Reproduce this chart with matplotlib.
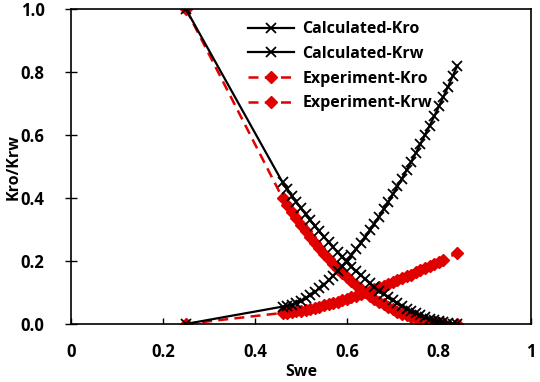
import matplotlib
matplotlib.use("Agg")
import matplotlib.pyplot as plt

# saturation points (Swe) and relative permeabilities
swe_calc = [0.25, 0.46, 0.47, 0.48, 0.49, 0.50, 0.51, 0.52, 0.53, 0.54, 0.55,
            0.56, 0.57, 0.58, 0.59, 0.60, 0.61, 0.62, 0.63, 0.64, 0.65,
            0.66, 0.67, 0.68, 0.69, 0.70, 0.71, 0.72, 0.73, 0.74, 0.75,
            0.76, 0.77, 0.78, 0.79, 0.80, 0.81, 0.82, 0.83, 0.84]
kro_calc = [1.000, 0.450, 0.429, 0.408, 0.388, 0.368, 0.349, 0.330, 0.312, 0.294, 0.277,
            0.260, 0.243, 0.227, 0.212, 0.197, 0.182, 0.168, 0.155, 0.142, 0.129,
            0.117, 0.106, 0.095, 0.084, 0.075, 0.065, 0.057, 0.048, 0.041, 0.034,
            0.027, 0.021, 0.016, 0.012, 0.008, 0.005, 0.002, 0.001, 0.000]
krw_calc = [0.000, 0.055, 0.057, 0.061, 0.066, 0.073, 0.081, 0.091, 0.101, 0.113, 0.125,
            0.138, 0.153, 0.168, 0.184, 0.201, 0.218, 0.237, 0.256, 0.276, 0.297,
            0.319, 0.341, 0.364, 0.387, 0.412, 0.437, 0.462, 0.489, 0.516, 0.543,
            0.572, 0.601, 0.630, 0.660, 0.691, 0.722, 0.754, 0.787, 0.820]

swe_exp = [0.25, 0.46, 0.47, 0.48, 0.49, 0.50, 0.51, 0.52, 0.53, 0.54, 0.55,
           0.56, 0.57, 0.58, 0.59, 0.60, 0.61, 0.62, 0.63, 0.64, 0.65,
           0.66, 0.67, 0.68, 0.69, 0.70, 0.71, 0.72, 0.73, 0.74, 0.75,
           0.76, 0.77, 0.78, 0.79, 0.80, 0.81, 0.84]
kro_exp = [1.000, 0.400, 0.378, 0.356, 0.335, 0.315, 0.295, 0.276, 0.258, 0.240, 0.223,
           0.207, 0.191, 0.176, 0.162, 0.148, 0.135, 0.123, 0.111, 0.100, 0.090,
           0.080, 0.070, 0.062, 0.054, 0.046, 0.039, 0.033, 0.027, 0.022, 0.018,
           0.014, 0.010, 0.007, 0.005, 0.003, 0.002, 0.000]
krw_exp = [0.000, 0.035, 0.036, 0.038, 0.040, 0.042, 0.045, 0.048, 0.052, 0.055, 0.059,
           0.063, 0.067, 0.071, 0.076, 0.080, 0.085, 0.090, 0.095, 0.100, 0.105,
           0.110, 0.116, 0.121, 0.127, 0.133, 0.139, 0.145, 0.151, 0.157, 0.164,
           0.170, 0.177, 0.183, 0.190, 0.197, 0.204, 0.225]

plt.rcParams['font.family'] = ['Open Sans', 'DejaVu Sans']
plt.rcParams['font.weight'] = 'bold'

fig = plt.figure(figsize=(5.4, 3.82), dpi=100)
ax = fig.add_axes([0.1315, 0.152, 0.8515, 0.824])

red = '#e00000'
ax.plot(swe_calc, kro_calc, color='black', lw=1.6, marker='x', ms=7.5, mew=1.3,
        label='Calculated-Kro', zorder=3)
ax.plot(swe_calc, krw_calc, color='black', lw=1.6, marker='x', ms=7.5, mew=1.3,
        label='Calculated-Krw', zorder=3)
ax.plot(swe_exp, kro_exp, color=red, lw=1.8, ls=(0, (4, 2.5)), marker='D', ms=6.5,
        label='Experiment-Kro', zorder=2)
ax.plot(swe_exp, krw_exp, color=red, lw=1.8, ls=(0, (4, 2.5)), marker='D', ms=6.5,
        label='Experiment-Krw', zorder=2)

ax.set_xlim(0, 1)
ax.set_ylim(0, 1)
ax.set_xticks([0, 0.2, 0.4, 0.6, 0.8, 1])
ax.set_xticklabels(['0', '0.2', '0.4', '0.6', '0.8', '1'], fontweight='bold')
ax.set_yticks([0, 0.2, 0.4, 0.6, 0.8, 1.0])
ax.set_yticklabels(['0.0', '0.2', '0.4', '0.6', '0.8', '1.0'], fontweight='bold')
ax.tick_params(axis='x', direction='in', length=4, width=1, labelsize=12, pad=14)
ax.tick_params(axis='y', direction='inout', length=8, width=1, labelsize=12, pad=15)
for s in ax.spines.values():
    s.set_linewidth(1.2)

ax.set_xlabel('Swe', fontsize=11.5, fontweight='bold', labelpad=2)
ax.set_ylabel('Kro/Krw', fontsize=11.5, fontweight='bold', labelpad=-1)

ax.legend(loc='upper left', bbox_to_anchor=(0.385, 0.962), frameon=False,
          numpoints=1, handlelength=2.9, labelspacing=0.55,
          handletextpad=0.5, borderaxespad=0, borderpad=0,
          prop={'weight': 'bold', 'size': 11.5})

fig.savefig('out.png', dpi=100)
